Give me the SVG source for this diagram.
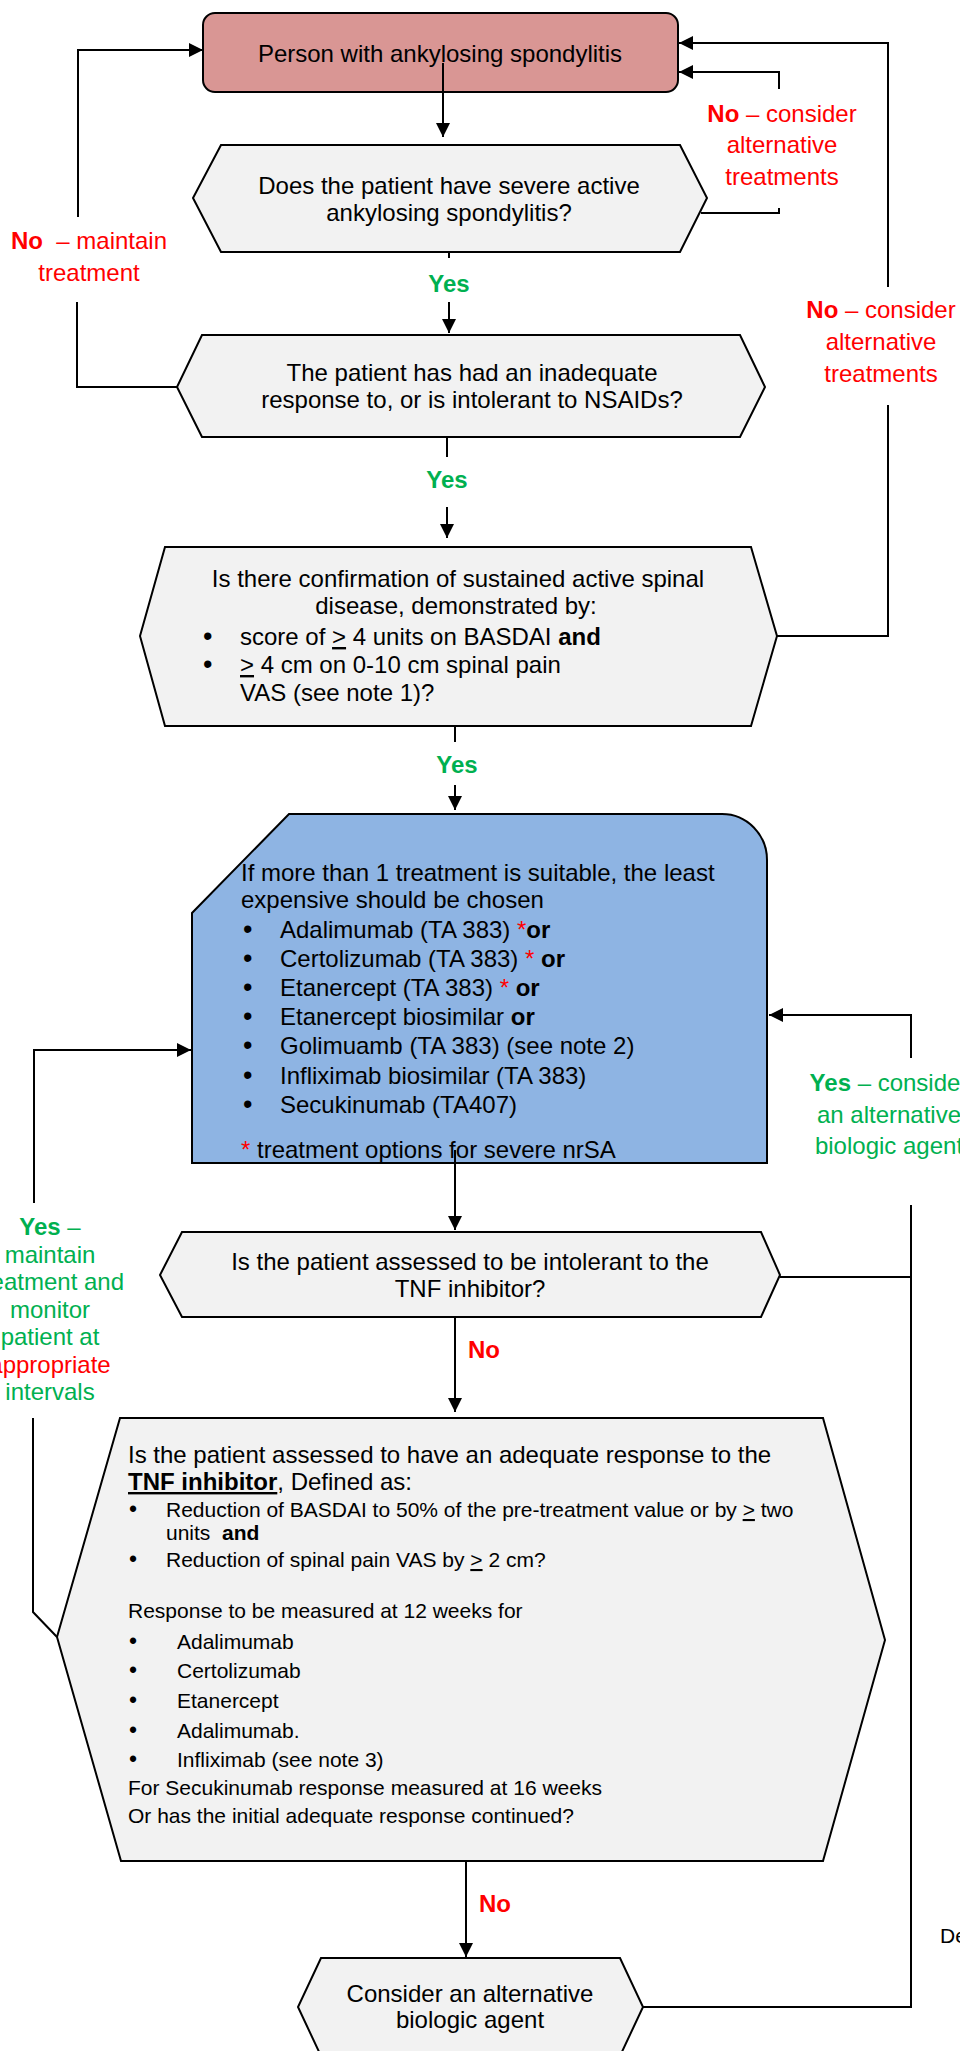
<svg xmlns="http://www.w3.org/2000/svg" width="960" height="2051" viewBox="0 0 960 2051">
<defs>
<marker id="ah" markerUnits="userSpaceOnUse" markerWidth="15" markerHeight="15" refX="14" refY="7" orient="auto">
<path d="M0,0 L14,7 L0,14 Z" fill="#000"/>
</marker>
<style>
.box{stroke:#000;stroke-width:2}
.grey{fill:#f2f2f2}
.c{stroke:#000;stroke-width:2;fill:none}
.a{marker-end:url(#ah)}
text{font-family:"Liberation Sans",Arial,sans-serif;font-size:24px;fill:#000}
.s{font-size:21px}
.bl{font-size:27px}
.bls{font-size:23px}
.m{text-anchor:middle}
.red{fill:#ff0000}
.grn{fill:#00b050}
.b{font-weight:bold}
.u{text-decoration:underline}
</style>
</defs>
<rect width="960" height="2051" fill="#fff"/>

<g id="node-start">
<rect class="box" x="203" y="13" width="475" height="79" rx="12" fill="#d99694"/>
<text class="m" x="440" y="62">Person with ankylosing spondylitis</text>
</g>

<g id="node-severe">
<polygon class="box grey" points="221,145 680,145 707,198 680,252 221,252 193,198"/>
<text class="m" x="449" y="194">Does the patient have severe active</text>
<text class="m" x="449" y="221">ankylosing spondylitis?</text>
</g>

<g id="node-nsaids">
<polygon class="box grey" points="202,335 740,335 765,387 740,437 202,437 177,387"/>
<text class="m" x="472" y="381">The patient has had an inadequate</text>
<text class="m" x="472" y="408">response to, or is intolerant to NSAIDs?</text>
</g>

<g id="node-confirm">
<polygon class="box grey" points="165,547 751,547 777,636 751,726 165,726 140,636"/>
<text class="m" x="458" y="587">Is there confirmation of sustained active spinal</text>
<text class="m" x="456" y="614">disease, demonstrated by:</text>
<text x="203" y="645"><tspan class="bl">•</tspan><tspan x="240">score of </tspan><tspan class="u">&gt;</tspan> 4 units on BASDAI <tspan class="b">and</tspan></text>
<text x="203" y="673"><tspan class="bl">•</tspan><tspan x="240" class="u">&gt;</tspan> 4 cm on 0-10 cm spinal pain</text>
<text x="240" y="701">VAS (see note 1)?</text>
</g>

<g id="node-treatment">
<path class="box" d="M289,814 L722,814 A45,46 0 0 1 767,860 L767,1163 L192,1163 L192,913 Z" fill="#8eb4e3"/>
<text x="241" y="881">If more than 1 treatment is suitable, the least</text>
<text x="241" y="908">expensive should be chosen</text>
<text x="243" y="938"><tspan class="bl">•</tspan><tspan x="280">Adalimumab (TA 383) </tspan><tspan class="red">*</tspan><tspan class="b">or</tspan></text>
<text x="243" y="967"><tspan class="bl">•</tspan><tspan x="280">Certolizumab (TA 383) </tspan><tspan class="red">*</tspan> <tspan class="b">or</tspan></text>
<text x="243" y="996"><tspan class="bl">•</tspan><tspan x="280">Etanercept (TA 383) </tspan><tspan class="red">*</tspan> <tspan class="b">or</tspan></text>
<text x="243" y="1025"><tspan class="bl">•</tspan><tspan x="280">Etanercept biosimilar </tspan><tspan class="b">or</tspan></text>
<text x="243" y="1054"><tspan class="bl">•</tspan><tspan x="280">Golimuamb (TA 383) (see note 2)</tspan></text>
<text x="243" y="1084"><tspan class="bl">•</tspan><tspan x="280">Infliximab biosimilar (TA 383)</tspan></text>
<text x="243" y="1113"><tspan class="bl">•</tspan><tspan x="280">Secukinumab (TA407)</tspan></text>
<text x="241" y="1158"><tspan class="red">*</tspan> treatment options for severe nrSA</text>
</g>

<g id="node-intolerant">
<polygon class="box grey" points="182,1232 761,1232 780,1275 761,1317 182,1317 160,1275"/>
<text class="m" x="470" y="1270">Is the patient assessed to be intolerant to the</text>
<text class="m" x="470" y="1297">TNF inhibitor?</text>
</g>

<g id="node-response">
<polygon class="box grey" points="120,1418 823,1418 885,1640 823,1861 121,1861 57,1637"/>
<text x="128" y="1463">Is the patient assessed to have an adequate response to the</text>
<text x="128" y="1490"><tspan class="b u">TNF inhibitor</tspan>, Defined as:</text>
<text class="s" x="129" y="1517"><tspan class="bls">•</tspan><tspan x="166">Reduction of BASDAI to 50% of the pre-treatment value or by </tspan><tspan class="u">&gt;</tspan> two</text>
<text class="s" x="166" y="1540">units&#160; <tspan class="b">and</tspan></text>
<text class="s" x="129" y="1567"><tspan class="bls">•</tspan><tspan x="166">Reduction of spinal pain VAS by </tspan><tspan class="u">&gt;</tspan> 2 cm?</text>
<text class="s" x="128" y="1618">Response to be measured at 12 weeks for</text>
<text class="s" x="129" y="1649"><tspan class="bls">•</tspan><tspan x="177">Adalimumab</tspan></text>
<text class="s" x="129" y="1678"><tspan class="bls">•</tspan><tspan x="177">Certolizumab</tspan></text>
<text class="s" x="129" y="1708"><tspan class="bls">•</tspan><tspan x="177">Etanercept</tspan></text>
<text class="s" x="129" y="1738"><tspan class="bls">•</tspan><tspan x="177">Adalimumab.</tspan></text>
<text class="s" x="129" y="1767"><tspan class="bls">•</tspan><tspan x="177">Infliximab (see note 3)</tspan></text>
<text class="s" x="128" y="1795">For Secukinumab response measured at 16 weeks</text>
<text class="s" x="128" y="1823">Or has the initial adequate response continued?</text>
</g>

<g id="node-alternative">
<polygon class="box grey" points="321,1958 620,1958 643,2007 620,2056 321,2056 298,2007"/>
<text class="m" x="470" y="2002">Consider an alternative</text>
<text class="m" x="470" y="2028">biologic agent</text>
</g>

<g id="connectors">
<path class="c a" d="M443,63 L443,137"/>
<path class="c" d="M449,252 L449,258"/>
<path class="c a" d="M449,302 L449,333"/>
<path class="c" d="M447,437 L447,457"/>
<path class="c a" d="M447,507 L447,538"/>
<path class="c" d="M455,726 L455,742"/>
<path class="c a" d="M455,785 L455,810"/>
<path class="c a" d="M455,1150 L455,1230"/>
<path class="c a" d="M455,1317 L455,1412"/>
<path class="c a" d="M466,1861 L466,1957"/>
<path class="c" d="M780,1277 L911,1277"/>
<path class="c" d="M643,2007 L911,2007 L911,1205"/>
<path class="c a" d="M911,1058 L911,1015 L769,1015"/>
<path class="c" d="M57,1637 L33,1612 L33,1418"/>
<path class="c a" d="M34,1203 L34,1050 L191,1050"/>
<path class="c" d="M177,387 L77,387 L77,302"/>
<path class="c a" d="M78,217 L78,50 L203,50"/>
<path class="c" d="M701,213 L779,213 L779,208"/>
<path class="c a" d="M779,89 L779,72 L679,72"/>
<path class="c" d="M777,636 L888,636 L888,405"/>
<path class="c a" d="M888,287 L888,43 L679,43"/>
</g>

<g id="labels">
<text class="m grn b" x="449" y="292">Yes</text>
<text class="m grn b" x="447" y="488">Yes</text>
<text class="m grn b" x="457" y="773">Yes</text>
<text class="red b" x="468" y="1358">No</text>
<text class="red b" x="479" y="1912">No</text>
<text class="m red" x="782" y="122"><tspan class="b">No</tspan> – consider</text>
<text class="m red" x="782" y="153">alternative</text>
<text class="m red" x="782" y="185">treatments</text>
<text class="m red" x="881" y="318"><tspan class="b">No</tspan> – consider</text>
<text class="m red" x="881" y="350">alternative</text>
<text class="m red" x="881" y="382">treatments</text>
<text class="m red" x="89" y="249"><tspan class="b">No</tspan>&#160; – maintain</text>
<text class="m red" x="89" y="281">treatment</text>
<text class="m grn" x="889" y="1091"><tspan class="b">Yes</tspan> – consider</text>
<text class="m grn" x="889" y="1123">an alternative</text>
<text class="m grn" x="889" y="1154">biologic agent</text>
<text class="m grn" x="50" y="1235"><tspan class="b">Yes</tspan> –</text>
<text class="m grn" x="50" y="1263">maintain</text>
<text class="m grn" x="50" y="1290">treatment and</text>
<text class="m grn" x="50" y="1318">monitor</text>
<text class="m grn" x="50" y="1345">patient at</text>
<text class="m red" x="50" y="1373">appropriate</text>
<text class="m grn" x="50" y="1400">intervals</text>
<text class="s" x="940" y="1943">De</text>
</g>
</svg>
